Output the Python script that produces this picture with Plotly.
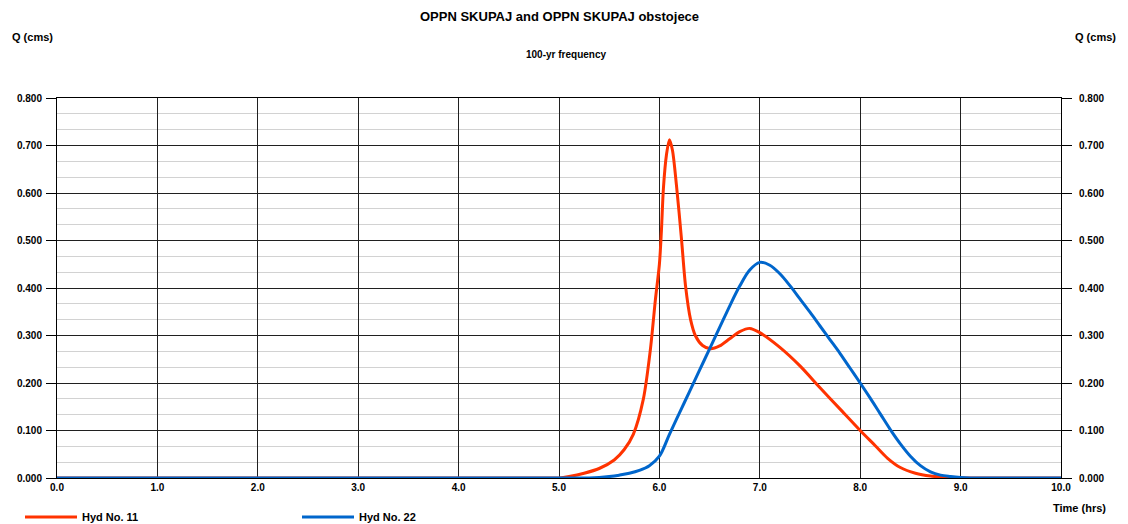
import plotly.graph_objects as go

# Hydrograph Hyd No. 11 (time in hrs, flow in cms)
hours_11 = [0.0, 4.9, 5.0, 5.1, 5.25, 5.4, 5.55, 5.65, 5.74, 5.84, 5.91, 5.96, 6.0,
            6.02, 6.04, 6.07, 6.10, 6.13, 6.17, 6.22, 6.26, 6.31, 6.36, 6.43, 6.51,
            6.6, 6.7, 6.8, 6.9, 7.0, 7.2, 7.4, 7.6, 7.8, 8.0, 8.15, 8.27, 8.4, 8.55,
            8.7, 8.85, 9.0, 9.1, 10.0]
flow_11 = [0.0, 0.0, 0.0, 0.003, 0.01, 0.02, 0.038, 0.06, 0.092, 0.166, 0.27, 0.375,
           0.45, 0.52, 0.61, 0.68, 0.712, 0.69, 0.616, 0.503, 0.405, 0.334, 0.299,
           0.279, 0.272, 0.278, 0.293, 0.308, 0.315, 0.306, 0.275, 0.236, 0.19,
           0.145, 0.100, 0.068, 0.042, 0.022, 0.01, 0.004, 0.0015, 0.0, 0.0, 0.0]

# Hydrograph Hyd No. 22 (0.1 hr steps through the event)
hours_22 = [0.0, 5.2, 5.3, 5.4, 5.5, 5.6, 5.7, 5.8, 5.9, 6.0, 6.1, 6.2, 6.3, 6.4, 6.5,
            6.6, 6.7, 6.8, 6.9, 7.0, 7.1, 7.2, 7.3, 7.4, 7.5, 7.6, 7.7, 7.8, 7.9,
            8.0, 8.1, 8.2, 8.3, 8.4, 8.5, 8.6, 8.7, 8.8, 8.9, 9.0, 9.1, 9.2, 10.0]
flow_22 = [0.0, 0.0, 0.0, 0.001, 0.003, 0.006, 0.01, 0.016, 0.026, 0.046, 0.092,
           0.137, 0.182, 0.227, 0.272, 0.317, 0.362, 0.404, 0.438, 0.454, 0.448,
           0.43, 0.405, 0.377, 0.349, 0.32, 0.291, 0.262, 0.231, 0.2, 0.168, 0.135,
           0.102, 0.072, 0.046, 0.026, 0.013, 0.006, 0.003, 0.001, 0.0, 0.0, 0.0]

x_ticks = [0, 1, 2, 3, 4, 5, 6, 7, 8, 9, 10]
y_ticks = [0.0, 0.1, 0.2, 0.3, 0.4, 0.5, 0.6, 0.7, 0.8]

W, H = 1128, 524
L, R, T, B = 57, 67, 98, 46
FONT = "Liberation Sans, Arial, Helvetica, sans-serif"


def px(xp):
    return (xp - L) / (W - L - R)


def py(yp):
    return (H - B - yp) / (H - T - B)


fig = go.Figure()
fig.add_trace(go.Scatter(
    x=hours_11, y=flow_11, name="Hyd No. 11", mode="lines",
    line=dict(color="#FF3300", width=3, shape="spline", smoothing=0.8),
))
fig.add_trace(go.Scatter(
    x=hours_22, y=flow_22, name="Hyd No. 22", mode="lines",
    line=dict(color="#0066CC", width=3, shape="spline", smoothing=1.0),
))
# empty trace so the right-hand axis is drawn
fig.add_trace(go.Scatter(x=[None], y=[None], yaxis="y2", showlegend=False,
                         hoverinfo="skip"))

tick_font = dict(family=FONT, size=10, color="black", weight="bold")

yaxis_common = dict(
    range=[0, 0.8], tickvals=y_ticks, tickformat=".3f",
    ticks="outside", ticklen=10, tickcolor="black", tickwidth=1,
    tickfont=tick_font, fixedrange=True,
)

fig.update_layout(
    width=W, height=H,
    margin=dict(l=L, r=R, t=T, b=B, autoexpand=False),
    paper_bgcolor="white", plot_bgcolor="white",
    font=dict(family=FONT, color="black"),
    xaxis=dict(
        range=[0, 10], tickvals=x_ticks, tickformat=".1f",
        showgrid=True, gridcolor="#202020", gridwidth=1,
        showline=True, mirror=True, linecolor="black", linewidth=1,
        zeroline=False, ticks="", tickfont=tick_font,
    ),
    yaxis=dict(
        **yaxis_common,
        ticklabelstandoff=2,
        showgrid=True, gridcolor="#202020", gridwidth=1,
        minor=dict(dtick=0.1 / 3, tick0=0, showgrid=True,
                   gridcolor="#d2d2d2", gridwidth=1, ticks=""),
        showline=True, mirror=True, linecolor="black", linewidth=1,
        zeroline=True, zerolinecolor="black", zerolinewidth=1,
    ),
    yaxis2=dict(
        **yaxis_common,
        ticklabelstandoff=5,
        overlaying="y", side="right", showgrid=False, zeroline=False,
        showline=False,
    ),
    legend=dict(
        orientation="h", x=px(20), y=py(517), xanchor="left", yanchor="middle",
        font=dict(family=FONT, size=11, color="black", weight="bold"),
        entrywidth=210, entrywidthmode="pixels", itemwidth=52,
        bgcolor="rgba(0,0,0,0)",
    ),
    showlegend=True,
)

label_font = dict(family=FONT, size=11, color="black", weight="bold")
annotations = [
    dict(text="OPPN SKUPAJ and OPPN SKUPAJ obstojece", x=px(559), y=py(17),
         xanchor="center", font=dict(family=FONT, size=13, color="black", weight="bold")),
    dict(text="100-yr frequency", x=px(566), y=py(55), xanchor="center",
         font=dict(family=FONT, size=10, color="black", weight="bold")),
    dict(text="Q (cms)", x=px(10), y=py(37), xanchor="left", font=label_font),
    dict(text="Q (cms)", x=px(1118), y=py(37), xanchor="right", font=label_font),
    dict(text="Time (hrs)", x=px(1108), y=py(508), xanchor="right", font=label_font),
]
for a in annotations:
    a.update(xref="paper", yref="paper", yanchor="middle", showarrow=False)
fig.update_layout(annotations=annotations)

fig.write_html("out.html")
